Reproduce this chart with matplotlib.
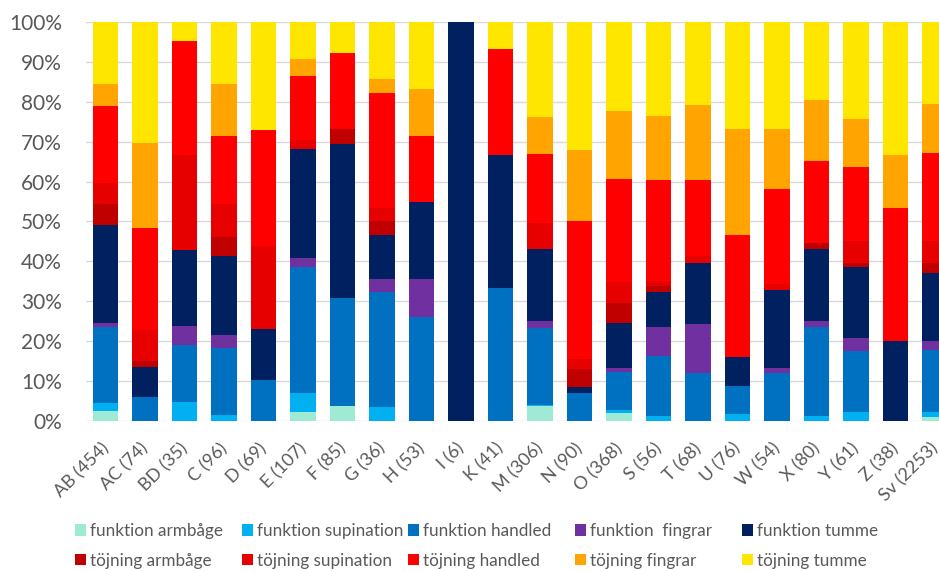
import matplotlib
matplotlib.use('Agg')
import matplotlib.pyplot as plt
import matplotlib.transforms as mtransforms
import numpy as np

plt.rcParams['font.family'] = ['Lato', 'DejaVu Sans']

# ~~> categories and share (%) of each group per category
categories = ['AB (454)', 'AC (74)', 'BD (35)', 'C (96)', 'D (69)', 'E (107)',
              'F (85)', 'G (36)', 'H (53)', 'I (6)', 'K (41)', 'M (306)',
              'N (90)', 'O (368)', 'S (56)', 'T (68)', 'U (76)', 'W (54)',
              'X (80)', 'Y (61)', 'Z (38)', 'Sv (2253)']

funk_armbage = [2.4, 0, 0, 0, 0, 2.1, 3.8, 0, 0, 0, 0, 3.8, 0, 2.0, 0, 0,
                0, 0, 0, 0, 0, 1.0]
funk_supination = [2.1, 0, 4.8, 1.5, 0, 4.8, 0, 3.5, 0, 0, 0, 0.2, 0, 0.7,
                   1.3, 0, 1.7, 0, 1.3, 2.2, 0, 1.3]
funk_handled = [19.1, 6.0, 14.2, 16.8, 10.3, 31.8, 26.9, 28.7, 26.1, 0, 33.2,
                19.2, 7.0, 9.6, 14.9, 12.1, 7.1, 11.9, 22.3, 15.3, 0, 15.5]
funk_fingrar = [0.8, 0, 4.8, 3.3, 0, 2.2, 0, 3.4, 9.5, 0, 0, 1.9, 0, 1.0,
                7.3, 12.2, 0, 1.4, 1.4, 3.3, 0, 2.2]
funk_tumme = [24.6, 7.6, 19.0, 19.8, 12.6, 27.3, 38.7, 10.9, 19.2, 100, 33.5,
              17.9, 1.4, 11.1, 8.8, 15.4, 7.3, 19.5, 18.0, 17.7, 20.1, 17.0]
toj_armbage = [5.3, 1.5, 0, 4.7, 0, 0, 3.7, 3.5, 0, 0, 0, 0, 4.7, 5.1, 1.4,
               0, 0, 0, 1.5, 1.0, 0, 2.7]
toj_supination = [5.4, 7.7, 23.9, 8.3, 20.9, 2.3, 0, 3.5, 0, 0, 0, 6.7, 2.4,
                  5.3, 1.3, 1.7, 0, 1.6, 0, 5.6, 0, 5.4]
toj_handled = [19.3, 25.6, 28.5, 17.1, 29.2, 15.9, 19.3, 28.7, 16.7, 0, 26.7,
               17.2, 34.5, 25.9, 25.3, 18.9, 30.4, 23.8, 20.8, 18.6, 33.2, 22.1]
toj_fingrar = [5.6, 21.4, 0, 12.9, 0, 4.5, 0, 3.5, 11.8, 0, 0, 9.3, 17.9,
               17.0, 16.2, 19.0, 26.8, 14.9, 15.3, 12.1, 13.4, 12.4]
toj_tumme = [15.4, 30.2, 4.8, 15.6, 27.0, 9.1, 7.6, 14.3, 16.7, 0, 6.6, 23.8,
             32.1, 22.3, 23.5, 20.7, 26.7, 26.9, 19.4, 24.2, 33.3, 20.4]

series = [
    ('funktion armbåge', funk_armbage, '#9EEAD4'),
    ('funktion supination', funk_supination, '#00B0F0'),
    ('funktion handled', funk_handled, '#0070C0'),
    ('funktion  fingrar', funk_fingrar, '#7030A0'),
    ('funktion tumme', funk_tumme, '#002060'),
    ('töjning armbåge', toj_armbage, '#C00000'),
    ('töjning supination', toj_supination, '#E60000'),
    ('töjning handled', toj_handled, '#FF0000'),
    ('töjning fingrar', toj_fingrar, '#FFA400'),
    ('töjning tumme', toj_tumme, '#FFE600'),
]

values = np.array([s[1] for s in series], dtype=float)
values = values / values.sum(axis=0) * 100.0

fig = plt.figure(figsize=(9.39, 5.71), dpi=100)
ax = fig.add_axes([0.0913, 0.2632, 0.9255, 0.6978])

ind = np.arange(len(categories))
bottom = np.zeros(len(categories))
handles = []
for (label, _, color), vals in zip(series, values):
    bars = ax.bar(ind, vals, 0.64, bottom=bottom, color=color, label=label,
                  zorder=2)
    handles.append(bars)
    bottom += vals

ax.set_xlim(-0.5, len(categories) - 0.5)
ax.set_ylim(0, 100)
ax.set_yticks(np.arange(0, 101, 10))
ax.set_yticklabels(['{}%'.format(v) for v in range(0, 101, 10)])
ax.yaxis.grid(True, color='#D9D9D9', linewidth=1.0, zorder=0)
ax.set_axisbelow(True)
for sp in ax.spines.values():
    sp.set_visible(False)
ax.tick_params(axis='y', length=0, pad=17, labelsize=15, labelcolor='#595959')
ax.tick_params(axis='x', length=0, pad=14, labelsize=13, labelcolor='#595959')
ax.set_xticks(ind)
ax.set_xticklabels(categories, rotation=45, ha='right', va='top',
                   rotation_mode='anchor')
shift = mtransforms.ScaledTranslation(-5 / 100.0, 0, fig.dpi_scale_trans)
for lab in ax.get_xticklabels():
    lab.set_transform(lab.get_transform() + shift)

# ~~> legend, laid out as five columns of two rows
col_x = [75, 242, 408, 575, 742]
for col in range(5):
    hs = [handles[col], handles[col + 5]]
    ls = [series[col][0], series[col + 5][0]]
    fig.legend(hs, ls, loc='upper left',
               bbox_to_anchor=(col_x[col] / 939.0, 1 - 523 / 571.0),
               frameon=False, fontsize=12.3, labelcolor='#595959',
               handlelength=0.65, handleheight=0.65, handletextpad=0.25,
               labelspacing=0.8, borderpad=0, borderaxespad=0)

fig.savefig('out.png', dpi=100)
